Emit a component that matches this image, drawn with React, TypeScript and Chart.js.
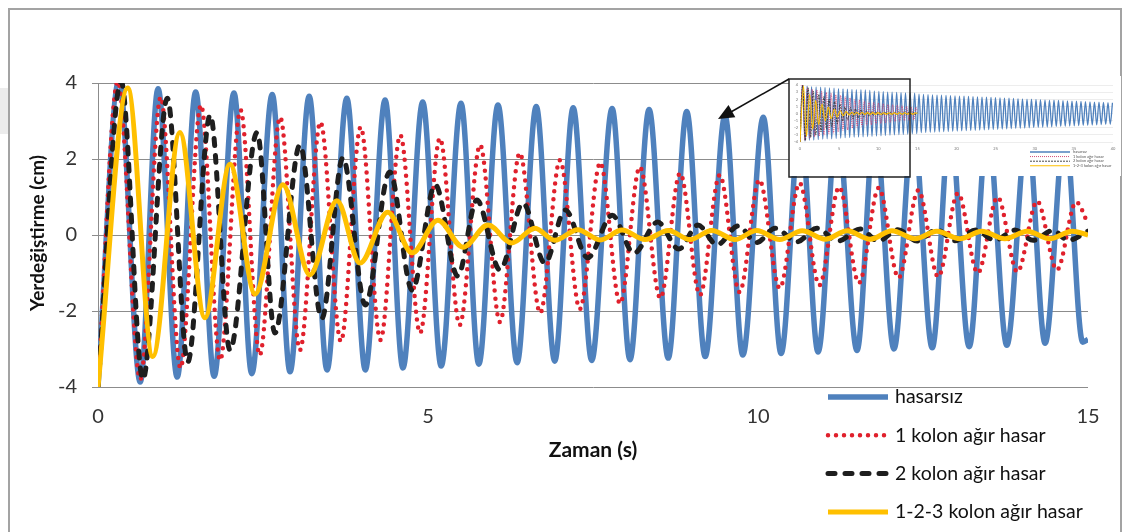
import React, { useEffect, useRef } from "react";
import { Chart, registerables } from "chart.js";

Chart.register(...registerables);

const FONT = "Lato, 'Open Sans', 'DejaVu Sans', sans-serif";

// ---- main chart data (extrema) ----
const hasarsizTime = [0, 0.32, 0.64, 0.91, 1.2, 1.48, 1.76, 2.06, 2.33, 2.64, 2.91, 3.2, 3.47, 3.77, 4.05, 4.35, 4.62, 4.92, 5.2, 5.5, 5.77, 6.06, 6.35, 6.64, 6.92, 7.2, 7.48, 7.79, 8.06, 8.35, 8.64, 8.92, 9.2, 9.5, 9.77, 10.08, 10.35, 10.64, 10.91, 11.2, 11.5, 11.77, 12.06, 12.35, 12.64, 12.91, 13.2, 13.48, 13.77, 14.08, 14.35, 14.65, 14.92, 15.0];
const hasarsizDisp = [-4, 4.1, -3.87, 3.85, -3.74, 3.76, -3.72, 3.74, -3.65, 3.7, -3.6, 3.65, -3.55, 3.6, -3.55, 3.55, -3.5, 3.5, -3.45, 3.47, -3.4, 3.42, -3.36, 3.38, -3.32, 3.35, -3.3, 3.33, -3.28, 3.3, -3.24, 3.25, -3.2, 3.15, -3.16, 3.1, -3.12, 3.05, -3.08, 3.0, -3.04, 3.0, -3.0, 2.95, -2.97, 2.93, -2.94, 2.9, -2.9, 2.88, -2.85, 2.85, -2.82, -2.75];

const kolon1Time = [0, 0.3, 0.64, 0.95, 1.25, 1.56, 1.85, 2.16, 2.45, 2.76, 3.06, 3.37, 3.68, 3.98, 4.28, 4.58, 4.88, 5.18, 5.48, 5.79, 6.09, 6.39, 6.7, 7.0, 7.3, 7.61, 7.91, 8.21, 8.52, 8.82, 9.12, 9.42, 9.72, 10.02, 10.33, 10.63, 10.93, 11.23, 11.53, 11.83, 12.13, 12.43, 12.73, 13.03, 13.33, 13.63, 13.93, 14.23, 14.53, 14.82, 15.0];
const kolon1Disp = [-4, 4.05, -3.8, 3.63, -3.5, 3.42, -3.3, 3.29, -3.16, 3.1, -3.03, 2.97, -2.8, 2.84, -2.76, 2.63, -2.58, 2.55, -2.37, 2.37, -2.29, 2.16, -2.05, 1.97, -1.95, 1.9, -1.8, 1.79, -1.66, 1.63, -1.58, 1.58, -1.5, 1.45, -1.4, 1.37, -1.32, 1.26, -1.26, 1.24, -1.13, 1.18, -1.1, 1.1, -1.0, 1.0, -0.97, 0.89, -0.92, 0.87, 0.3];

const kolon2Time = [0, 0.35, 0.68, 1.05, 1.36, 1.7, 2.0, 2.41, 2.68, 3.06, 3.39, 3.71, 4.05, 4.42, 4.76, 5.11, 5.45, 5.74, 6.09, 6.44, 6.77, 7.08, 7.42, 7.79, 8.12, 8.48, 8.8, 9.09, 9.38, 9.7, 9.98, 10.26, 10.59, 10.89, 11.21, 11.55, 11.82, 12.12, 12.41, 12.71, 12.98, 13.3, 13.59, 13.89, 14.17, 14.47, 14.7, 15.0];
const kolon2Disp = [-4, 4.05, -3.8, 3.6, -3.34, 3.16, -3.03, 2.7, -2.58, 2.37, -2.2, 2.03, -1.84, 1.66, -1.45, 1.32, -1.08, 0.92, -0.92, 0.84, -0.74, 0.66, -0.6, 0.52, -0.48, 0.34, -0.37, 0.26, -0.26, 0.24, -0.2, 0.18, -0.18, 0.18, -0.16, 0.16, -0.16, 0.14, -0.16, 0.14, -0.15, 0.13, -0.14, 0.13, -0.14, 0.12, -0.14, 0.1];

const kolon123Time = [0, 0.45, 0.83, 1.24, 1.62, 2.0, 2.38, 2.8, 3.21, 3.62, 3.97, 4.39, 4.76, 5.15, 5.53, 5.91, 6.27, 6.62, 6.92, 7.27, 7.61, 7.94, 8.29, 8.64, 8.97, 9.3, 9.65, 9.98, 10.33, 10.67, 11.02, 11.35, 11.7, 12.03, 12.38, 12.71, 13.06, 13.39, 13.74, 14.08, 14.42, 14.76, 15.0];
const kolon123Disp = [-4, 3.87, -3.2, 2.7, -2.18, 1.86, -1.55, 1.32, -1.05, 0.9, -0.74, 0.6, -0.47, 0.39, -0.32, 0.26, -0.21, 0.18, -0.14, 0.14, -0.13, 0.13, -0.12, 0.12, -0.12, 0.12, -0.12, 0.12, -0.12, 0.11, -0.11, 0.11, -0.11, 0.11, -0.1, 0.1, -0.1, 0.1, -0.1, 0.1, -0.1, 0.1, 0.0];

// ---- inset (thumbnail, 0-40 s): continuation of hasarsız ----
const insetExtTime = [15.21, 15.5, 15.78, 16.07, 16.36, 16.65, 16.93, 17.22, 17.51, 17.8, 18.08, 18.37, 18.66, 18.95, 19.23, 19.52, 19.81, 20.1, 20.38, 20.67, 20.96, 21.25, 21.53, 21.82, 22.11, 22.4, 22.68, 22.97, 23.26, 23.55, 23.83, 24.12, 24.41, 24.7, 24.98, 25.27, 25.56, 25.85, 26.13, 26.42, 26.71, 27.0, 27.28, 27.57, 27.86, 28.15, 28.43, 28.72, 29.01, 29.3, 29.58, 29.87, 30.16, 30.45, 30.73, 31.02, 31.31, 31.6, 31.88, 32.17, 32.46, 32.75, 33.03, 33.32, 33.61, 33.9, 34.18, 34.47, 34.76, 35.05, 35.33, 35.62, 35.91, 36.2, 36.48, 36.77, 37.06, 37.35, 37.63, 37.92, 38.21, 38.5, 38.78, 39.07, 39.36, 39.65, 39.93];
const insetExtDisp = [2.7, -2.69, 2.67, -2.66, 2.64, -2.63, 2.62, -2.6, 2.59, -2.57, 2.56, -2.55, 2.53, -2.52, 2.5, -2.49, 2.48, -2.46, 2.45, -2.43, 2.42, -2.41, 2.39, -2.38, 2.36, -2.35, 2.34, -2.32, 2.31, -2.29, 2.28, -2.27, 2.25, -2.24, 2.22, -2.21, 2.2, -2.18, 2.17, -2.15, 2.14, -2.13, 2.11, -2.1, 2.08, -2.07, 2.06, -2.04, 2.03, -2.01, 2.0, -1.99, 1.97, -1.96, 1.94, -1.93, 1.92, -1.9, 1.89, -1.87, 1.86, -1.85, 1.83, -1.82, 1.8, -1.79, 1.78, -1.76, 1.75, -1.73, 1.72, -1.71, 1.69, -1.68, 1.66, -1.65, 1.64, -1.62, 1.61, -1.59, 1.58, -1.57, 1.55, -1.54, 1.52, -1.51, 1.5];

const xTicks = [0, 5, 10, 15];
const yTicks = [-4, -2, 0, 2, 4];
const insetXTicks = [0, 5, 10, 15, 20, 25, 30, 35, 40];
const insetYTicks = [-4, -3, -2, -1, 0, 1, 2, 3, 4];

const seriesLabels = ["hasarsız", "1 kolon ağır hasar", "2 kolon ağır hasar", "1-2-3 kolon ağır hasar"];
const seriesColors = ["#4F81BD", "#E0202C", "#1E1E1E", "#FFC000"];
const xTitle = "Zaman (s)";
const yTitle = "Yerdeğiştirme (cm)";

function pts(t: number[], y: number[]) {
  return t.map((x, i) => ({ x, y: y[i] }));
}

const common = {
  pointRadius: 0,
  fill: false,
  cubicInterpolationMode: "monotone",
  clip: 0,
};

function drawLegendLine(ctx: CanvasRenderingContext2D, ds: any, x0: number, x1: number, y: number) {
  ctx.save();
  ctx.strokeStyle = ds.borderColor;
  ctx.lineWidth = ds.borderWidth;
  ctx.lineCap = ds.borderCapStyle || "butt";
  ctx.setLineDash(ds.borderDash || []);
  ctx.beginPath();
  ctx.moveTo(x0, y);
  ctx.lineTo(x1, y);
  ctx.stroke();
  ctx.restore();
}

const mainOverlay = {
  id: "mainOverlay",
  afterDraw(chart: any) {
    const ctx = chart.ctx as CanvasRenderingContext2D;
    const a = chart.chartArea;
    ctx.save();
    ctx.fillStyle = "#111";
    ctx.textAlign = "center";
    ctx.textBaseline = "middle";
    ctx.font = `bold 21px ${FONT}`;
    ctx.fillText(xTitle, (a.left + a.right) / 2, 450);
    ctx.font = `bold 19px ${FONT}`;
    ctx.translate(38, (a.top + a.bottom) / 2 - 2);
    ctx.rotate(-Math.PI / 2);
    ctx.fillText(yTitle, 0, 0);
    ctx.restore();

    ctx.save();
    ctx.font = `19.5px ${FONT}`;
    ctx.fillStyle = "#111";
    ctx.textAlign = "left";
    ctx.textBaseline = "middle";
    chart.data.datasets.forEach((ds: any, i: number) => {
      const y = 397 + i * 38.3;
      drawLegendLine(ctx, ds, 828, 888, y);
      ctx.fillText(ds.label, 895, y);
    });
    ctx.restore();
  },
};

const insetOverlay = {
  id: "insetOverlay",
  afterDraw(chart: any) {
    const ctx = chart.ctx as CanvasRenderingContext2D;
    ctx.save();
    ctx.font = `4px ${FONT}`;
    ctx.fillStyle = "#555";
    ctx.textAlign = "left";
    ctx.textBaseline = "middle";
    chart.data.datasets.forEach((ds: any, i: number) => {
      const y = 76 + i * 4.6;
      drawLegendLine(ctx, ds, 241, 281, y);
      ctx.fillText(ds.label, 284, y);
    });
    ctx.restore();
  },
};

export default function App() {
  const mainRef = useRef<HTMLCanvasElement>(null);
  const insetRef = useRef<HTMLCanvasElement>(null);

  useEffect(() => {
    const main = new Chart(mainRef.current as HTMLCanvasElement, {
      type: "line",
      data: {
        datasets: [
          { ...common, label: seriesLabels[0], data: pts(hasarsizTime, hasarsizDisp), borderColor: seriesColors[0], borderWidth: 5.5, order: 4 },
          { ...common, label: seriesLabels[1], data: pts(kolon1Time, kolon1Disp), borderColor: seriesColors[1], borderWidth: 4.5, borderDash: [0, 8], borderCapStyle: "round", order: 3 },
          { ...common, label: seriesLabels[2], data: pts(kolon2Time, kolon2Disp), borderColor: seriesColors[2], borderWidth: 5, borderDash: [7, 10], borderCapStyle: "round", order: 2 },
          { ...common, label: seriesLabels[3], data: pts(kolon123Time, kolon123Disp), borderColor: seriesColors[3], borderWidth: 5, order: 1 },
        ] as any,
      },
      options: {
        animation: false,
        responsive: false,
        maintainAspectRatio: false,
        devicePixelRatio: 1,
        events: [],
        layout: { padding: { left: 18, top: 83, right: 40, bottom: 45 } },
        plugins: { legend: { display: false }, tooltip: { enabled: false } },
        scales: {
          x: {
            type: "linear",
            min: 0,
            max: 15,
            afterBuildTicks: (s: any) => {
              s.ticks = xTicks.map((v) => ({ value: v }));
            },
            afterFit: (s: any) => {
              s.height = 100;
            },
            grid: { display: false, drawTicks: false },
            border: { display: false },
            ticks: { font: { family: FONT, size: 20 }, color: "#333", padding: 18, maxRotation: 0, autoSkip: false },
          },
          y: {
            type: "linear",
            min: -4,
            max: 4,
            afterBuildTicks: (s: any) => {
              s.ticks = yTicks.map((v) => ({ value: v }));
            },
            afterFit: (s: any) => {
              s.width = 80;
            },
            grid: { color: "#8c8c8c", lineWidth: 1, tickLength: 6, drawTicks: true, tickColor: "#8c8c8c" },
            border: { display: true, color: "#8c8c8c", width: 1 },
            ticks: { font: { family: FONT, size: 20 }, color: "#333", padding: 15, autoSkip: false },
          },
        },
      } as any,
      plugins: [mainOverlay],
    });

    const inset = new Chart(insetRef.current as HTMLCanvasElement, {
      type: "line",
      data: {
        datasets: [
          { ...common, label: seriesLabels[0], data: pts(hasarsizTime.slice(0, 53).concat(insetExtTime), hasarsizDisp.slice(0, 53).concat(insetExtDisp)), borderColor: seriesColors[0], borderWidth: 1.3, order: 4 },
          { ...common, label: seriesLabels[1], data: pts(kolon1Time, kolon1Disp), borderColor: "#D03a6a", borderWidth: 0.9, borderDash: [1, 1], order: 3 },
          { ...common, label: seriesLabels[2], data: pts(kolon2Time, kolon2Disp), borderColor: "#333", borderWidth: 0.9, borderDash: [2, 1], order: 2 },
          { ...common, label: seriesLabels[3], data: pts(kolon123Time, kolon123Disp), borderColor: seriesColors[3], borderWidth: 1.1, order: 1 },
        ] as any,
      },
      options: {
        animation: false,
        responsive: false,
        maintainAspectRatio: false,
        devicePixelRatio: 1,
        events: [],
        layout: { padding: { left: 4, top: 9, right: 8, bottom: 22 } },
        plugins: { legend: { display: false }, tooltip: { enabled: false } },
        scales: {
          x: {
            type: "linear",
            min: 0,
            max: 40,
            afterBuildTicks: (s: any) => {
              s.ticks = insetXTicks.map((v) => ({ value: v }));
            },
            afterFit: (s: any) => {
              s.height = 12;
            },
            grid: { display: false, drawTicks: false },
            border: { display: false },
            ticks: { font: { family: FONT, size: 4 }, color: "#777", padding: 4, maxRotation: 0, autoSkip: false },
          },
          y: {
            type: "linear",
            min: -4,
            max: 4,
            afterBuildTicks: (s: any) => {
              s.ticks = insetYTicks.map((v) => ({ value: v }));
            },
            afterFit: (s: any) => {
              s.width = 7;
            },
            grid: { color: "#e0e0e0", lineWidth: 0.6, drawTicks: false },
            border: { display: false },
            ticks: { font: { family: FONT, size: 4 }, color: "#777", padding: 2, autoSkip: false },
          },
        },
      } as any,
      plugins: [insetOverlay],
    });

    return () => {
      main.destroy();
      inset.destroy();
    };
  }, []);

  return (
    <div style={{ position: "absolute", left: 0, top: 0, width: 1128, height: 532, background: "#fff", overflow: "hidden" }}>
      <div style={{ position: "absolute", left: 0, top: 88, width: 8, height: 46, background: "#ececec" }} />
      <div style={{ position: "absolute", left: 8, top: 8, width: 1114, height: 540, border: "2px solid #a3a3a3", boxSizing: "border-box" }} />
      <canvas ref={mainRef} width={1128} height={532} style={{ position: "absolute", left: 0, top: 0 }} />
      <canvas ref={insetRef} width={332} height={100} style={{ position: "absolute", left: 789, top: 76, background: "#fff" }} />
      <svg width={1128} height={532} style={{ position: "absolute", left: 0, top: 0, pointerEvents: "none" }}>
        <rect x={789} y={79} width={121} height={98} fill="none" stroke="#222" strokeWidth={1.5} />
        <line x1={789} y1={79} x2={730} y2={112.5} stroke="#111" strokeWidth={1.5} />
        <polygon points="718,119 735.3,117.2 728.5,105" fill="#111" />
      </svg>
    </div>
  );
}
